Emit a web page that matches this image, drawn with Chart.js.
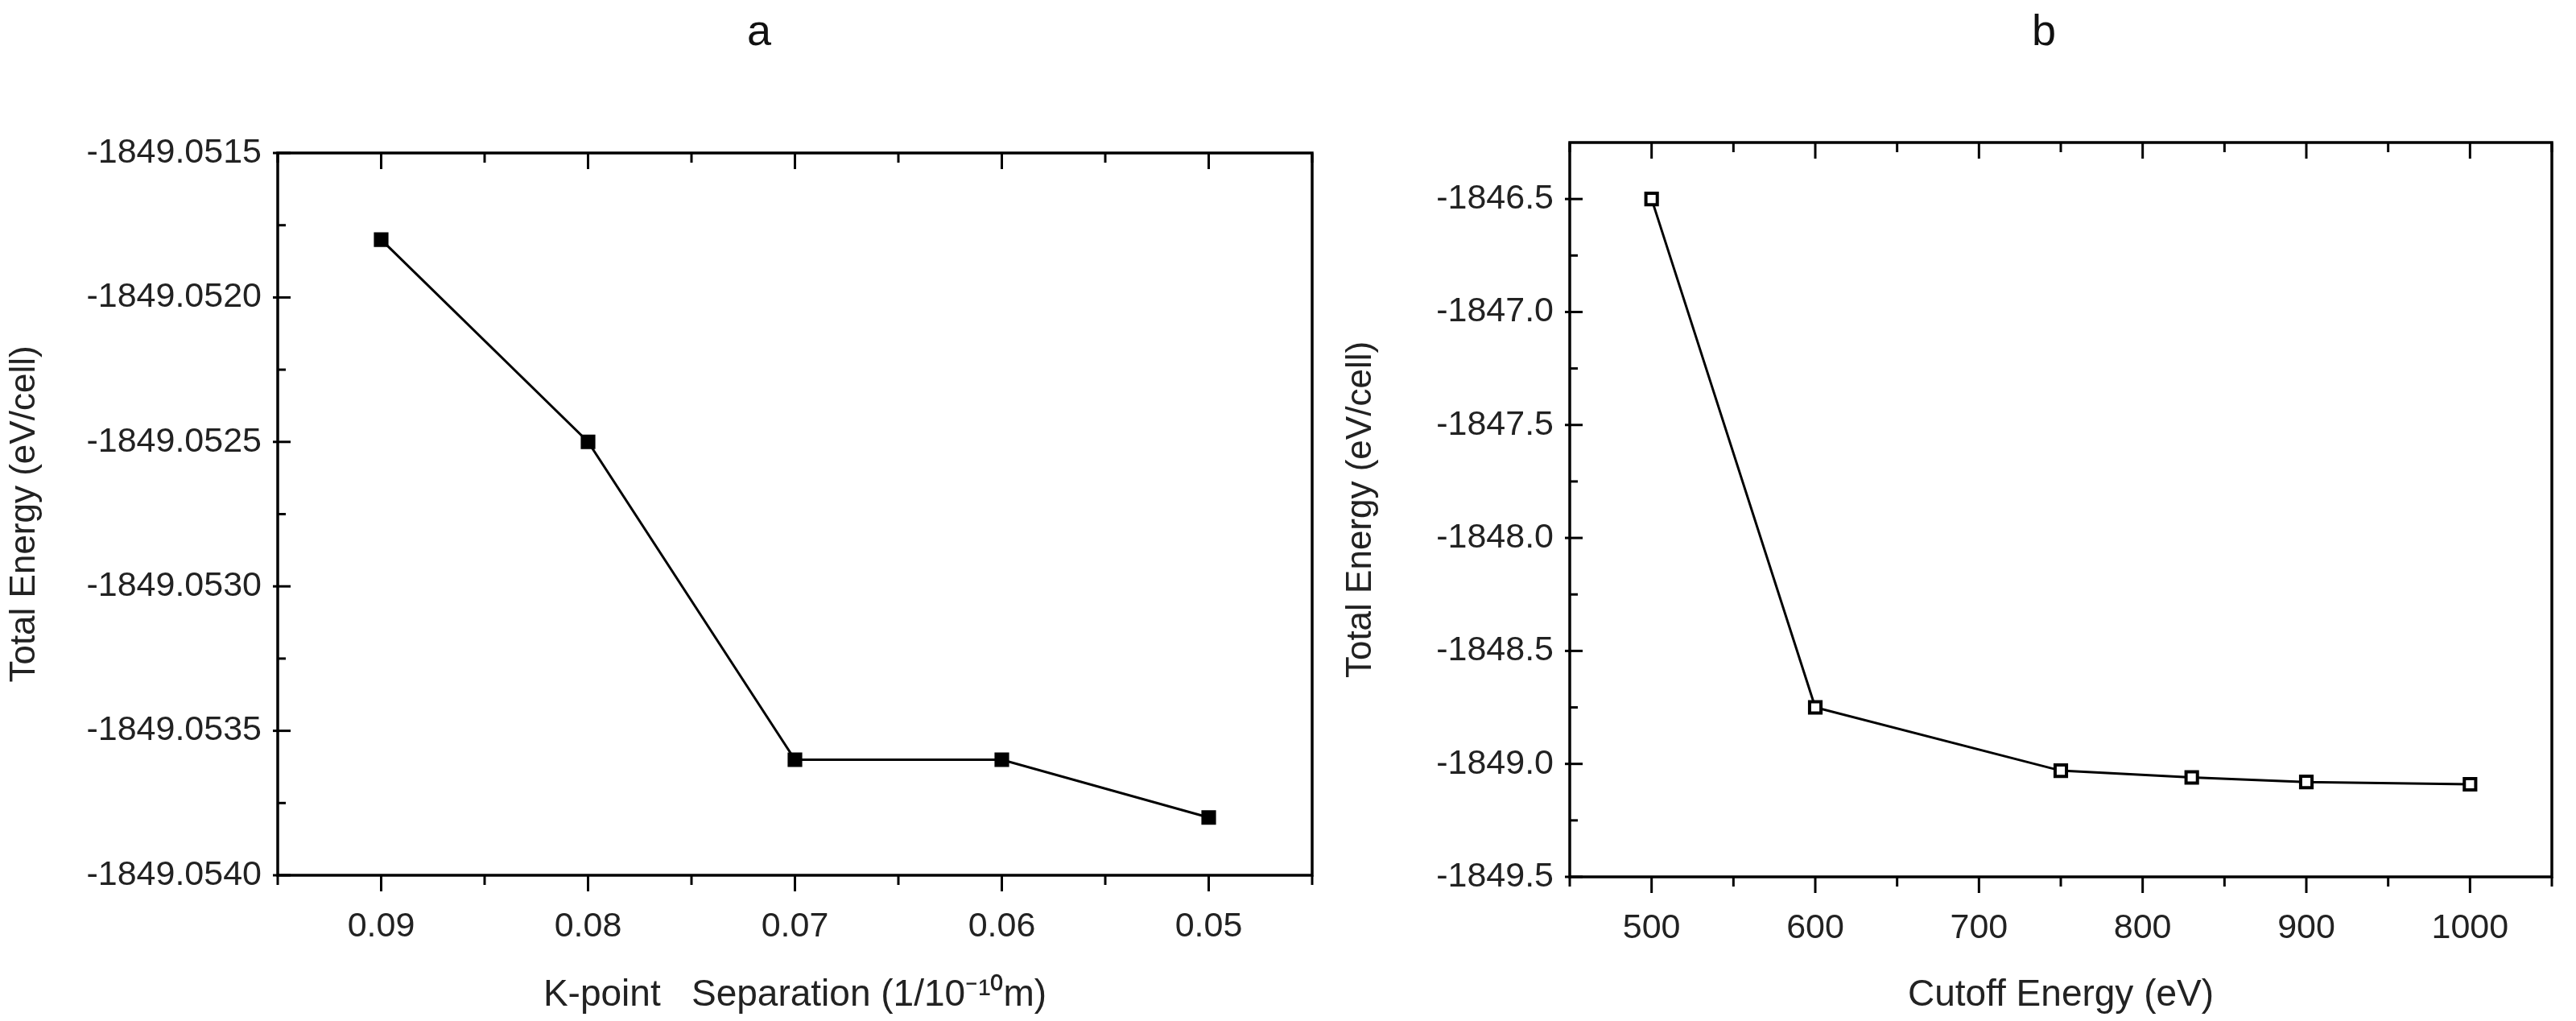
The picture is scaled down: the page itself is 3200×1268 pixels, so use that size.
<!DOCTYPE html>
<html><head><meta charset="utf-8">
<script src="https://cdn.jsdelivr.net/npm/chart.js@4"></script>
<style>
body{margin:0;background:#fff;width:3200px;height:1268px;position:relative;overflow:hidden;font-family:"Liberation Sans",Arial,sans-serif}
.c{position:absolute;top:0;height:1268px}
.lbl{position:absolute;top:6px;font-size:54px;color:#111}
</style></head><body>
<div class="lbl" style="left:928px">a</div>
<div class="lbl" style="left:2524px">b</div>
<div class="c" style="left:0;width:1660px"><canvas id="ca"></canvas></div>
<div class="c" style="left:1660px;width:1540px"><canvas id="cb"></canvas></div>
<script>
const kSep=[0.09,0.08,0.07,0.06,0.05];
const kEnergy=[-1849.0518,-1849.0525,-1849.0536,-1849.0536,-1849.0538];
const cutoff=[500,600,750,830,900,1000];
const cutEnergy=[-1846.5,-1848.75,-1849.03,-1849.06,-1849.08,-1849.09];
const F="'Liberation Sans', Arial, sans-serif";
const boxPlugin={id:'box',afterDraw(c){const a=c.chartArea,x=c.ctx,s=c.scales.x,y=c.scales.y;x.save();x.strokeStyle='#000';x.lineWidth=3.5;x.strokeRect(a.left,a.top,a.right-a.left,a.bottom-a.top);x.lineWidth=3;
 s.ticks.forEach(t=>{const p=s.getPixelForValue(t.value);const L=t.label?20:12;x.beginPath();x.moveTo(p,a.top);x.lineTo(p,a.top+L);x.stroke();x.beginPath();x.moveTo(p,a.bottom);x.lineTo(p,a.bottom+L);x.stroke();});
 y.ticks.forEach(t=>{const p=y.getPixelForValue(t.value);const L=t.label?16:10;x.beginPath();x.moveTo(a.left-(t.label?6:0),p);x.lineTo(a.left+L,p);x.stroke();});
 x.restore();}};
function mk(id,xs,ys,o){
 const data=xs.map((v,i)=>({x:v,y:ys[i]}));
 return new Chart(document.getElementById(id),{type:'line',data:{datasets:[{data,borderColor:'#000',borderWidth:3,pointStyle:'rect',pointRadius:10,pointBackgroundColor:o.fill,pointBorderColor:'#000',pointBorderWidth:4,tension:0}]},
 plugins:[boxPlugin],
 options:{responsive:true,maintainAspectRatio:false,animation:false,
 layout:{padding:{top:o.top,right:o.right,left:0,bottom:0}},
 plugins:{legend:{display:false},tooltip:{enabled:false}},
 scales:{
  x:{type:'linear',reverse:o.rev,min:o.xmin,max:o.xmax,afterFit:s=>{s.height=o.bot},
   ticks:{stepSize:o.xstep,font:{size:43,family:F},color:'#222',padding:30,autoSkip:false,maxRotation:0,callback:o.xcb},
   grid:{display:false},border:{display:false},
   title:{display:true,text:o.xt,font:{size:46,family:F},color:'#222',padding:{top:18}}},
  y:{min:o.ymin,max:o.ymax,afterFit:s=>{s.width=o.yw},afterBuildTicks:o.ytk,
   ticks:{font:{size:43,family:F},color:'#222',padding:12,autoSkip:false,callback:o.ycb},
   grid:{display:false},border:{display:false},
   title:{display:true,text:'Total Energy (eV/cell)',font:{size:44,family:F},color:'#222',padding:{bottom:6}}}
 }}});
}
const kTicks=[];for(let i=0;i<=10;i++)kTicks.push(-1849.054+i*0.00025);
mk('ca',kSep,kEnergy,{fill:'#000',top:190,right:16,bot:181,yw:345,rev:true,xmin:0.045,xmax:0.095,xstep:0.005,
 xcb:v=>{const r=Math.round(v*1000);return r%10===0?(v).toFixed(2):''},
 xt:'K-point   Separation (1/10\u207B\u00B9\u2070m)',ymin:-1849.054,ymax:-1849.0515,
 ytk:s=>{s.ticks=kTicks.map(v=>({value:v}))},
 ycb:(v,i)=>i%2===0?v.toFixed(4):''});
const cTicks=[];for(let i=0;i<=12;i++)cTicks.push(-1849.5+i*0.25);
mk('cb',cutoff,cutEnergy,{fill:'#fff',top:177,right:12,bot:179,yw:290,rev:false,xmin:450,xmax:1050,xstep:50,
 xcb:v=>v%100===0?String(v):'',xt:'Cutoff Energy (eV)',ymin:-1849.5,ymax:-1846.25,
 ytk:s=>{s.ticks=cTicks.map(v=>({value:v}))},
 ycb:(v,i)=>i%2===0?v.toFixed(1):''});
</script></body></html>
